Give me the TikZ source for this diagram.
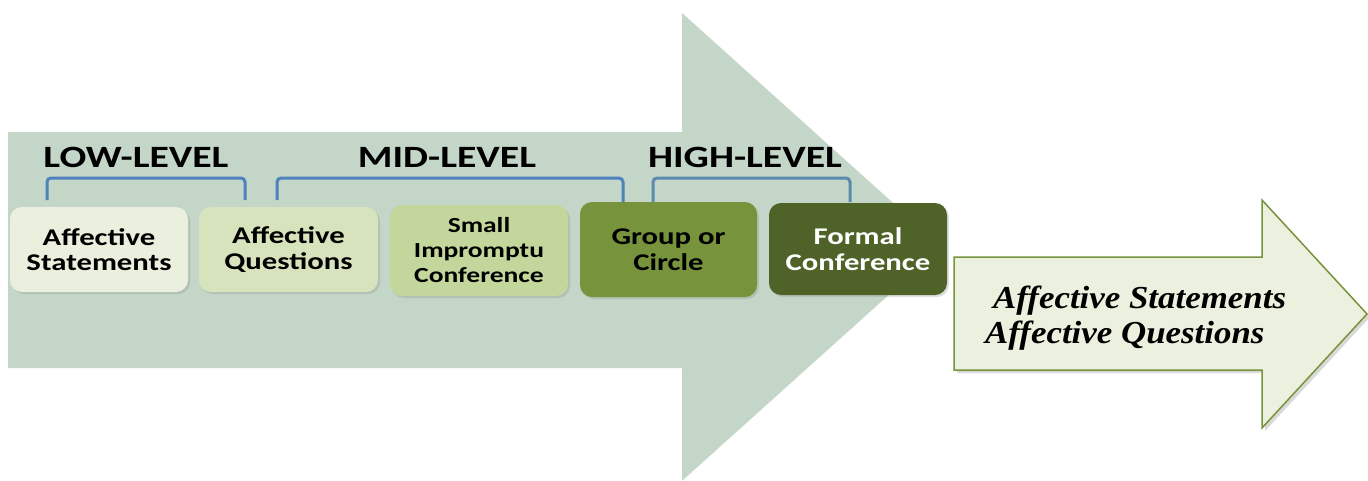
\documentclass[tikz,border=0pt]{standalone}
\usepackage{fontspec}
\setmainfont{Carlito}[FakeStretch=1.28]
\newfontfamily\rserif{Liberation Serif}[FakeStretch=1.09]
\usetikzlibrary{shadows}
\definecolor{bigarrow}{RGB}{196,214,199}
\definecolor{boxA}{RGB}{235,240,222}
\definecolor{boxB}{RGB}{215,227,188}
\definecolor{boxC}{RGB}{195,214,155}
\definecolor{boxD}{RGB}{119,147,60}
\definecolor{boxE}{RGB}{79,98,40}
\definecolor{brk}{RGB}{79,129,189}
\definecolor{brkH}{RGB}{90,138,174}
\definecolor{rfill}{RGB}{235,241,222}
\definecolor{rline}{RGB}{119,147,60}
\begin{document}
\begin{tikzpicture}[x=1pt,y=-1pt,
  stage/.style={rounded corners=12pt, align=center, inner sep=0pt,
    font=\bfseries\fontsize{24}{25.5}\selectfont,
    drop shadow={shadow xshift=2pt, shadow yshift=-2pt, opacity=0.25}},
  level/.style={font=\bfseries\fontsize{31}{31}\selectfont, anchor=base, inner sep=0pt},
  bracket/.style={draw=brk, line width=3pt, rounded corners=4pt},
  rtext/.style={anchor=base west, inner sep=0pt,
    font=\rserif\bfseries\itshape\fontsize{32}{35}\selectfont},
]
\useasboundingbox (0,0) rectangle (1368,480);
% big background arrow
\fill[bigarrow] (8,132) -- (682,132) -- (682,13) -- (942,247) -- (683,480) -- (682,480)
  -- (682,368) -- (8,368) -- cycle;
% stage boxes
\node[stage, fill=boxA, minimum width=178pt, minimum height=85pt] (b1) at (99,249.5)
  {Affective\\Statements};
\node[stage, fill=boxB, minimum width=179pt, minimum height=85pt] (b2) at (288.5,249.5)
  {Affective\\Questions};
\node[stage, fill=boxC, minimum width=178pt, minimum height=91pt,
  font=\bfseries\fontsize{21.5}{25}\selectfont] (b3) at (479,250.5)
  {Small\\Impromptu\\Conference};
\node[stage, fill=boxD, minimum width=177pt, minimum height=95pt] (b4) at (668.5,249.5)
  {Group or\\Circle};
\node[stage, fill=boxE, text=white, minimum width=178pt, minimum height=92pt] (b5) at (858,249)
  {Formal\\Conference};
% level headings
\node[level] (low) at (136,167) {LOW-LEVEL};
\node[level] (mid) at (447,167) {MID-LEVEL};
\node[level] (high) at (745,167) {HIGH-LEVEL};
% brackets
\draw[bracket] (47,200) -- (47,178) -- (245,178) -- (245,200);
\draw[bracket] (277,200) -- (277,178) -- (623,178) -- (623,202);
\draw[bracket, draw=brkH] (653,202) -- (653,178) -- (850,178) -- (850,202);
% right arrow
\filldraw[fill=rfill, draw=rline, line width=1.5pt,
  drop shadow={shadow xshift=3pt, shadow yshift=-3pt, opacity=0.3}]
  (954,257) -- (1262,257) -- (1262,200) -- (1367,314) -- (1262,428) -- (1262,370)
  -- (954,370) -- cycle;
\node[rtext] (r1) at (993,308) {Affective Statements};
\node[rtext] (r2) at (985,343) {Affective Questions};
\end{tikzpicture}
\end{document}
